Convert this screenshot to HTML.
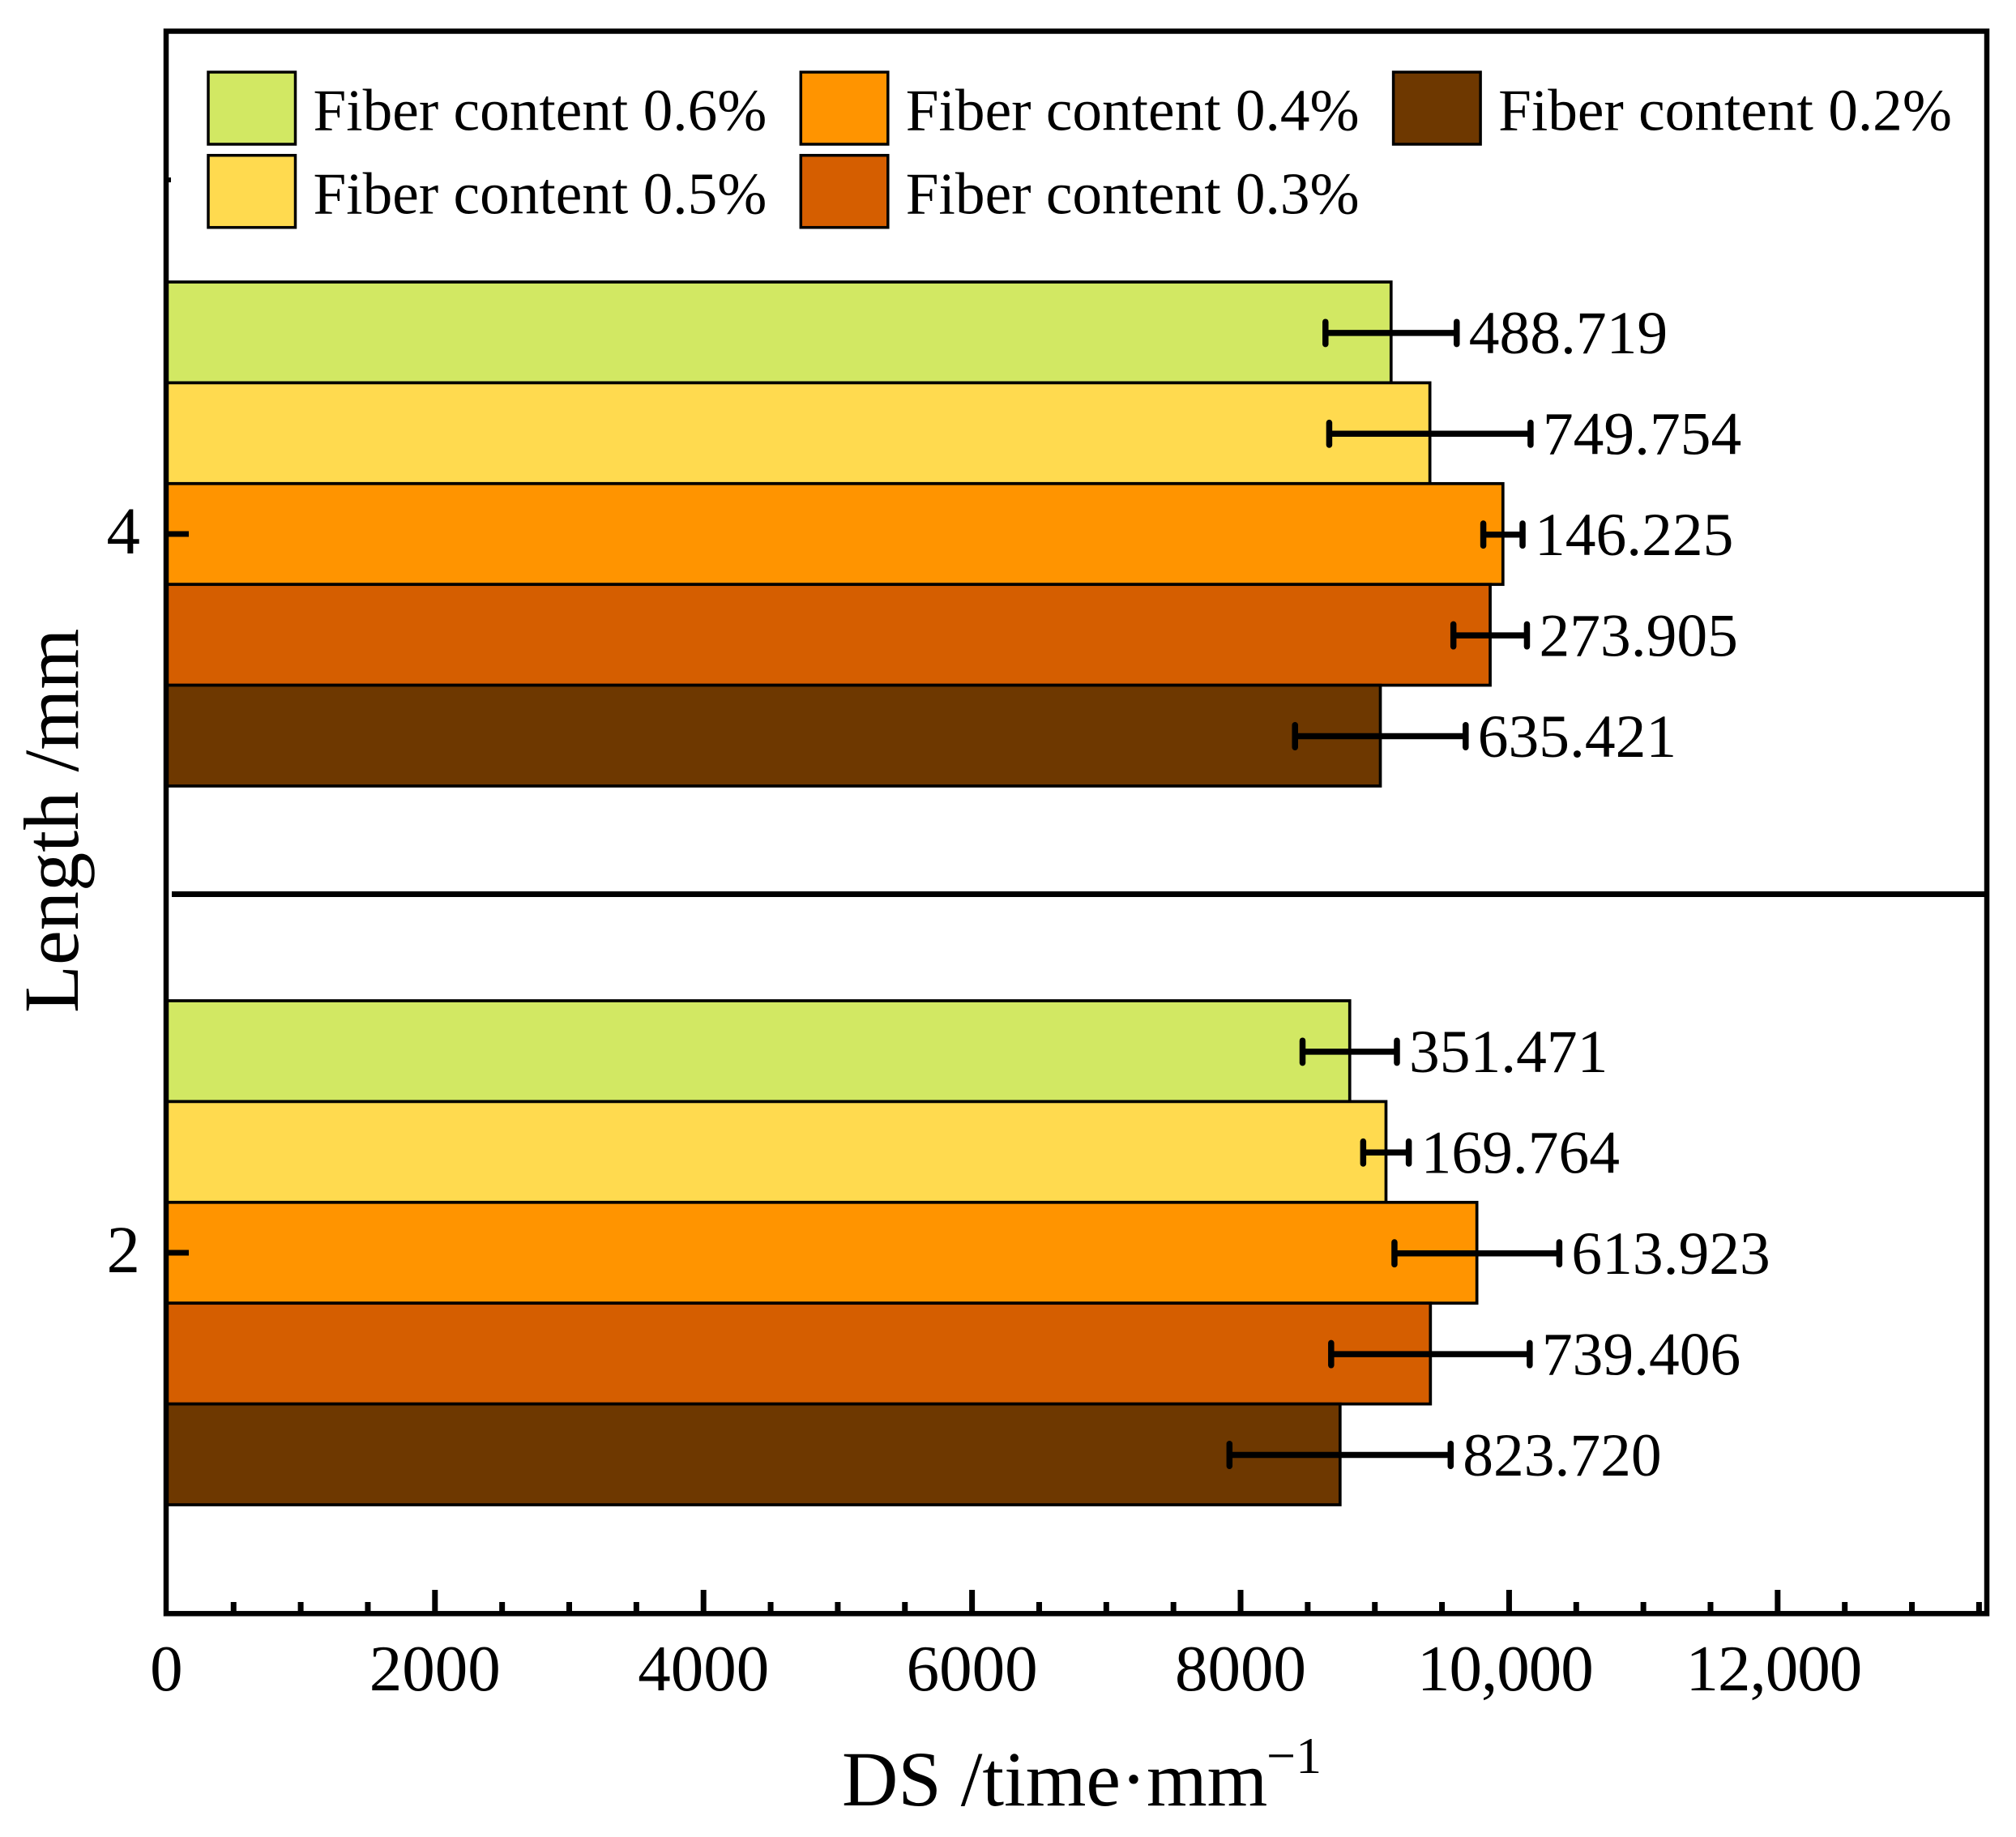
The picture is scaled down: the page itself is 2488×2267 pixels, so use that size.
<!DOCTYPE html>
<html lang="en">
<head>
<meta charset="utf-8">
<title>DS by fiber length and content</title>
<style>
html,body{margin:0;padding:0;background:#fff;}
svg{display:block;}
text{font-family:"Liberation Serif",serif;fill:#000;}
</style>
</head>
<body>
<svg id="chart" xmlns="http://www.w3.org/2000/svg" width="2488" height="2267" viewBox="0 0 2488 2267">
  <rect x="0" y="0" width="2488" height="2267" fill="#ffffff"/>
  <g id="bars"></g>
  <g id="errors"></g>
  <g id="values"></g>
  <line x1="212" y1="1103.5" x2="2452" y2="1103.5" stroke="#000" stroke-width="7"/>
  <line x1="205" y1="222" x2="211" y2="222" stroke="#000" stroke-width="6"/>
  <g id="xticks"></g>
  <g id="yticks"></g>
  <rect x="205" y="38.5" width="2247" height="1952.8" fill="none" stroke="#000" stroke-width="6.5"/>
  <g id="legend"></g>
  <text x="1039" y="2228" font-size="96">DS /time·mm</text>
  <text x="1563" y="2188" font-size="64">−1</text>
  <text transform="translate(96 1250) rotate(-90)" x="0" y="0" font-size="96.5">Length /mm</text>
</svg>
<script>
const seriesNames = ['Fiber content 0.6%', 'Fiber content 0.5%', 'Fiber content 0.4%', 'Fiber content 0.3%', 'Fiber content 0.2%'];
const seriesColors = ['#D2E863', '#FFDA4F', '#FF9400', '#D55E00', '#6E3800'];
const categories = [4, 2];
const valuesLength4 = [9121, 9410, 9954, 9859, 9041];
const valuesLength2 = [8813, 9083, 9760, 9414, 8741];
const errorsLength4 = [488.719, 749.754, 146.225, 273.905, 635.421];
const errorsLength2 = [351.471, 169.764, 613.923, 739.406, 823.720];
const xMajorTicks = [0, 2000, 4000, 6000, 8000, 10000, 12000];
const xTickLabels = ['0', '2000', '4000', '6000', '8000', '10,000', '12,000'];
const xMinorTicks = [500, 1000, 1500, 2500, 3000, 3500, 4500, 5000, 5500, 6500, 7000, 7500, 8500, 9000, 9500, 10500, 11000, 11500, 12500, 13000, 13500];
const yTickLabels = ['4', '2'];

const NS = 'http://www.w3.org/2000/svg';
const plotLeft = 205.4, plotRight = 2452, xMax = 13558;
const y4Pixel = 659, y2Pixel = 1546;
const barSpan = 0.2805;

function xScale(v) { return plotLeft + (plotRight - plotLeft) * v / xMax; }
function yScale(c) { return y2Pixel + (c - 2) * (y4Pixel - y2Pixel) / 2; }
function bandHeight() { return Math.abs(yScale(barSpan) - yScale(0)); }

function make(tag, attrs, parent) {
  const el = document.createElementNS(NS, tag);
  for (const k in attrs) el.setAttribute(k, attrs[k]);
  parent.appendChild(el);
  return el;
}

const barsG = document.getElementById('bars');
const errG = document.getElementById('errors');
const valG = document.getElementById('values');
const xG = document.getElementById('xticks');
const yG = document.getElementById('yticks');
const legG = document.getElementById('legend');

categories.forEach(function (cat, ci) {
  const vals = ci === 0 ? valuesLength4 : valuesLength2;
  const errs = ci === 0 ? errorsLength4 : errorsLength2;
  const h = bandHeight();
  const groupTop = yScale(cat) - h * vals.length / 2;
  vals.forEach(function (v, si) {
    const top = groupTop + si * h;
    const cy = top + h / 2;
    const bar = make('rect', {x: plotLeft, y: top, width: xScale(v) - plotLeft, height: h, fill: seriesColors[si], stroke: '#000', 'stroke-width': 3.7}, barsG);
    
    

    const e = errs[si];
    const xa = xScale(v - e), xb = xScale(v + e);
    const ey = cy + 0.7;
    const stem = make('line', {x1: xa, y1: ey, x2: xb, y2: ey, stroke: '#000', 'stroke-width': 7.5}, errG);
    
    
    const capA = make('line', {x1: xa, y1: ey - 13.7, x2: xa, y2: ey + 13.7, stroke: '#000', 'stroke-width': 7.5, 'stroke-linecap': 'round'}, errG);
    
    
    const capB = make('line', {x1: xb, y1: ey - 13.7, x2: xb, y2: ey + 13.7, stroke: '#000', 'stroke-width': 7.5, 'stroke-linecap': 'round'}, errG);
    
    

    const t = make('text', {x: xb + 15, y: cy + 26, 'font-size': 75.5}, valG);
    
    
    t.textContent = e.toFixed(3);
  });
});

xMajorTicks.forEach(function (v, i) {
  const x = xScale(v);
  if (v !== 0) {
    const tick = make('line', {x1: x, y1: 1990, x2: x, y2: 1962, stroke: '#000', 'stroke-width': 7}, xG);
    
    
  }
  const hasComma = xTickLabels[i].indexOf(',') >= 0;
  const label = make('text', {x: hasComma ? x - 5 : x, y: 2086, 'font-size': 81, 'text-anchor': 'middle', 'letter-spacing': hasComma ? -1 : 0}, xG);
  
  
  label.textContent = xTickLabels[i];
});

xMinorTicks.forEach(function (v) {
  const x = xScale(v);
  const tick = make('line', {x1: x, y1: 1990, x2: x, y2: 1977, stroke: '#000', 'stroke-width': 7}, xG);
  
  
});

categories.forEach(function (cat, i) {
  const y = yScale(cat);
  const tick = make('line', {x1: 205, y1: y, x2: 233, y2: y, stroke: '#000', 'stroke-width': 7}, yG);
  
  
  const label = make('text', {x: 173, y: y + 24, 'font-size': 83, 'text-anchor': 'end'}, yG);
  
  
  label.textContent = yTickLabels[i];
});

const legendOrder = [[0, 0, 0], [1, 0, 1], [2, 1, 0], [3, 1, 1], [4, 2, 0]];
legendOrder.forEach(function (item) {
  const col = item[1], row = item[2];
  const swatchX = 257 + col * 731.3;
  const swatchY = 89 + row * 102.7;
  const swatch = make('rect', {x: swatchX, y: swatchY, width: 107.5, height: 89, fill: seriesColors[item[0]], stroke: '#000', 'stroke-width': 3.5}, legG);
  
  
  const label = make('text', {x: swatchX + 129.5, y: 160.7 + row * 102.7, 'font-size': 73.3}, legG);
  
  
  label.textContent = seriesNames[item[0]];
});
</script>
</body>
</html>
